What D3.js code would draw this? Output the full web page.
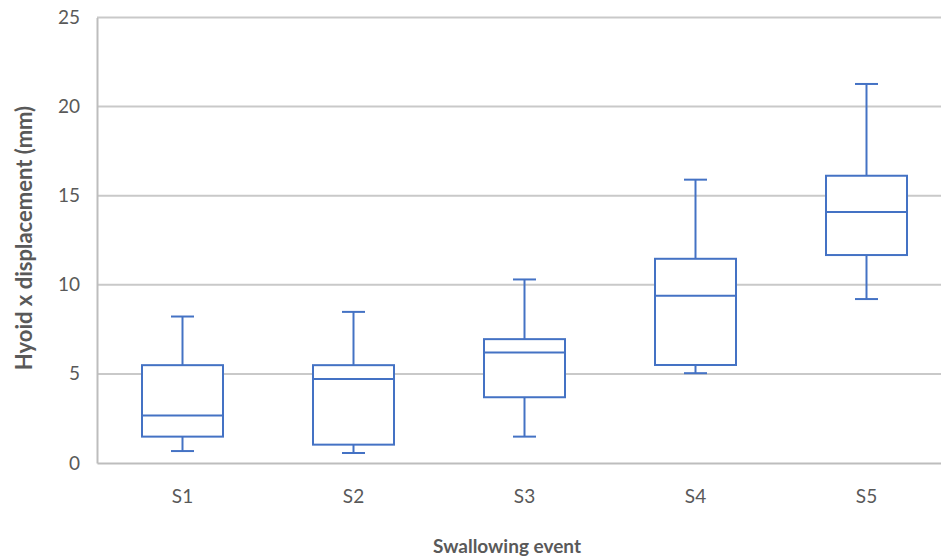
<!DOCTYPE html>
<html>
<head>
<meta charset="utf-8">
<script src="https://cdn.jsdelivr.net/npm/d3@7"></script>
<style>
  body { margin: 0; background: #fff; }
  text { font-family: Lato, "Open Sans", sans-serif; fill: #595959; }
</style>
</head>
<body>
<svg id="chart" width="941" height="556"></svg>
<script>
// data
const events = ["S1", "S2", "S3", "S4", "S5"];
const mins    = [0.67, 0.56, 1.48, 5.04, 9.2];
const q1s     = [1.48, 1.03, 3.69, 5.5, 11.67];
const medians = [2.66, 4.72, 6.2, 9.38, 14.08];
const q3s     = [5.49, 5.49, 6.95, 11.46, 16.12];
const maxs    = [8.22, 8.48, 10.3, 15.9, 21.27];
const yTicks  = [0, 5, 10, 15, 20, 25];

const svg = d3.select("#chart");
const margin = { left: 97, top: 17.5, bottom: 93 };
const plotRight = 952;
const height = 556;

const x = d3.scaleBand().domain(events).range([margin.left, plotRight]);
const y = d3.scaleLinear().domain([0, 25]).range([height - margin.bottom, margin.top]);

const boxes = events.map((e, i) => ({
    event: e, min: mins[i], q1: q1s[i], median: medians[i], q3: q3s[i], max: maxs[i]
}));

// gridlines
svg.append("g")
    .selectAll("line")
    .data(yTicks.filter(t => t > 0))
    .join("line")
    .attr("x1", margin.left).attr("x2", 941)
    .attr("y1", d => y(d)).attr("y2", d => y(d))
    .attr("stroke", "#c9c9c9")
    .attr("stroke-width", 2);

// axes
const yAxis = svg.append("g")
    .attr("transform", `translate(${margin.left},0)`)
    .call(d3.axisLeft(y).tickValues(yTicks).tickSize(0).tickPadding(17));
yAxis.select(".domain").attr("stroke", "#bdbdbd").attr("stroke-width", 2);
yAxis.selectAll("text").attr("font-size", 19).attr("fill", "#555");

const xAxis = svg.append("g")
    .attr("transform", `translate(0,${y(0)})`)
    .call(d3.axisBottom(x).tickSize(0).tickPadding(27));
xAxis.select(".domain").attr("stroke", "#bdbdbd").attr("stroke-width", 2);
xAxis.selectAll("text").attr("font-size", 19).attr("fill", "#555");

// boxes
const boxW = 81, capW = 23;
const g = svg.append("g")
    .selectAll("g")
    .data(boxes)
    .join("g")
    .attr("transform", d => `translate(${x(d.event) + x.bandwidth() / 2},0)`)
    .attr("stroke", "#4472c4")
    .attr("stroke-width", 2)
    .attr("fill", "none");

// whiskers
g.append("line").attr("x1", 0).attr("x2", 0)
    .attr("y1", d => y(d.q3)).attr("y2", d => y(d.max));
g.append("line").attr("x1", 0).attr("x2", 0)
    .attr("y1", d => y(d.q1)).attr("y2", d => y(d.min));
g.append("line").attr("x1", -capW / 2).attr("x2", capW / 2)
    .attr("y1", d => y(d.max)).attr("y2", d => y(d.max));
g.append("line").attr("x1", -capW / 2).attr("x2", capW / 2)
    .attr("y1", d => y(d.min)).attr("y2", d => y(d.min));

g.append("rect")
    .attr("x", -boxW / 2).attr("width", boxW)
    .attr("y", d => y(d.q3))
    .attr("height", d => y(d.q1) - y(d.q3))
    .attr("fill", "#fff");

g.append("line").attr("x1", -boxW / 2).attr("x2", boxW / 2)
    .attr("y1", d => y(d.median)).attr("y2", d => y(d.median));

// axis titles
svg.append("text")
    .attr("transform", "translate(32,238) rotate(-90)")
    .attr("text-anchor", "middle")
    .attr("font-size", 22)
    .attr("font-weight", "bold")
    .text("Hyoid x displacement (mm)");

svg.append("text")
    .attr("x", 507).attr("y", 553)
    .attr("text-anchor", "middle")
    .attr("font-size", 19)
    .attr("font-weight", "bold")
    .text("Swallowing event");
</script>
</body>
</html>
